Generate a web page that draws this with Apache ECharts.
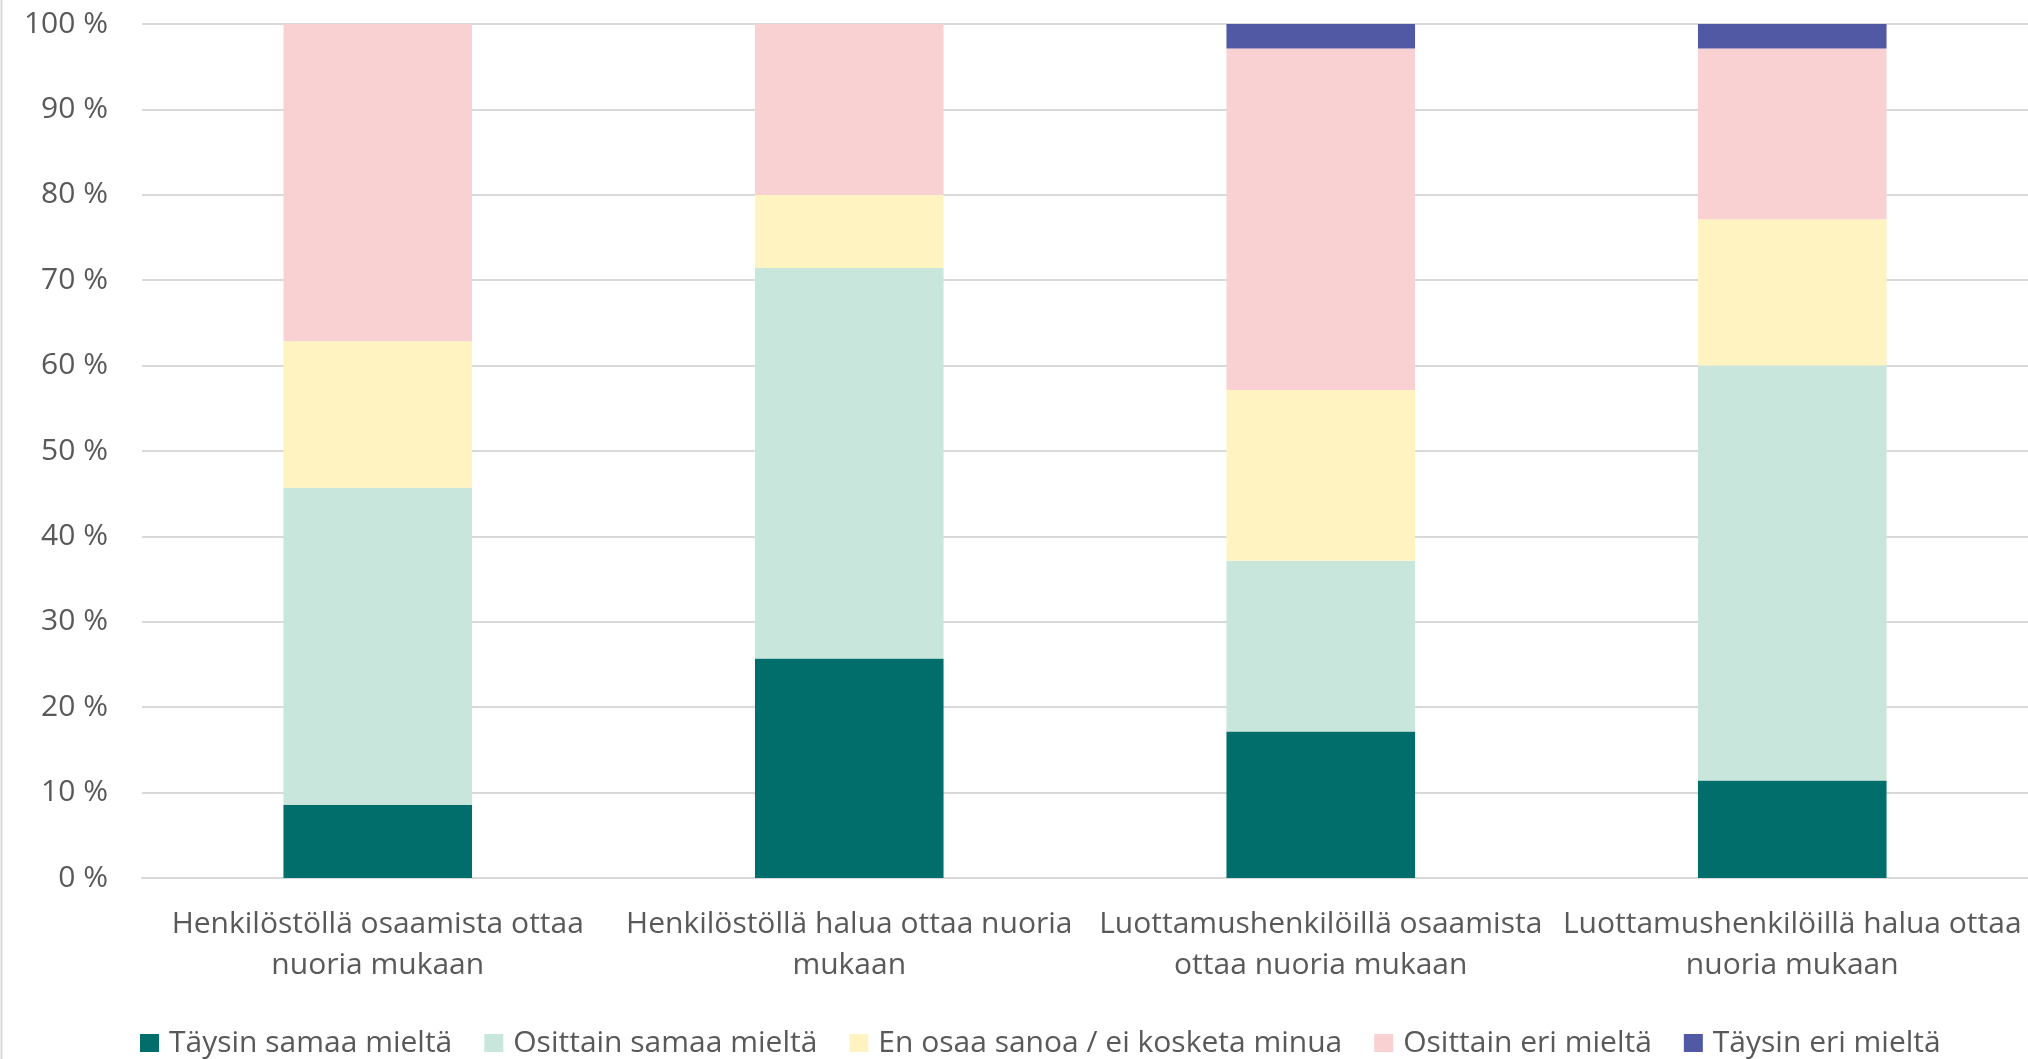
<!DOCTYPE html>
<html>
<head>
<meta charset="utf-8">
<script src="https://cdn.jsdelivr.net/npm/echarts@6/dist/echarts.min.js"></script>
<style>
html,body{margin:0;padding:0;background:#fff;}
#chart{width:2028px;height:1059px;}
</style>
</head>
<body>
<div id="chart"></div>
<script>
const categories = [
  "Henkilöstöllä osaamista ottaa\nnuoria mukaan",
  "Henkilöstöllä halua ottaa nuoria\nmukaan",
  "Luottamushenkilöillä osaamista\nottaa nuoria mukaan",
  "Luottamushenkilöillä halua ottaa\nnuoria mukaan"
];
const seriesNames = [
  "Täysin samaa mieltä",
  "Osittain samaa mieltä",
  "En osaa sanoa / ei kosketa minua",
  "Osittain eri mieltä",
  "Täysin eri mieltä"
];
const taysinSamaa   = [8.57, 25.71, 17.14, 11.43];
const osittainSamaa = [37.14, 45.71, 20.00, 48.57];
const enOsaa        = [17.14, 8.57, 20.00, 17.14];
const osittainEri   = [37.14, 20.00, 40.00, 20.00];
const taysinEri     = [0, 0, 2.86, 2.86];
const yTicks = [0,10,20,30,40,50,60,70,80,90,100];

const colors = ["#016E6B", "#C8E6DB", "#FFF3C2", "#F9D1D2", "#5159A4"];
const values = [taysinSamaa, osittainSamaa, enOsaa, osittainEri, taysinEri];

const FONT = "Open Sans";
const FS = 30;
const chart = echarts.init(document.getElementById('chart'));
chart.setOption({
  backgroundColor: '#ffffff',
  animation: false,
  textStyle: { fontFamily: FONT },
  graphic: [{
    type: 'line', shape: { x1: 1.5, y1: 0, x2: 1.5, y2: 1059 },
    style: { stroke: '#d9d9d9', lineWidth: 2 }
  }],
  grid: { left: 142, right: 0, top: 24, bottom: 181, containLabel: false },
  legend: {
    left: 135, top: 1023,
    itemWidth: 19, itemHeight: 18, itemGap: 32,
    icon: 'rect',
    textStyle: { fontFamily: FONT, fontSize: FS, color: '#595959', padding: [0,0,0,5] },
    data: seriesNames
  },
  xAxis: {
    type: 'category',
    data: categories,
    axisLine: { lineStyle: { color: '#d9d9d9', width: 2 } },
    axisTick: { show: false },
    axisLabel: { fontFamily: FONT, fontSize: FS, color: '#595959', lineHeight: 41, margin: 26, interval: 0, align: 'center' }
  },
  yAxis: {
    type: 'value', min: 0, max: 100, interval: 10,
    axisLine: { show: false }, axisTick: { show: false },
    splitLine: { lineStyle: { color: '#d9d9d9', width: 2 } },
    axisLabel: { fontFamily: FONT, fontSize: FS, color: '#595959', margin: 34,
      formatter: v => (yTicks.includes(v) ? v + ' %' : '') }
  },
  series: seriesNames.map((n, i) => ({
    name: n, type: 'bar', stack: 'all', barWidth: '40%',
    data: values[i],
    itemStyle: { color: colors[i] }
  }))
});
</script>
</body>
</html>
